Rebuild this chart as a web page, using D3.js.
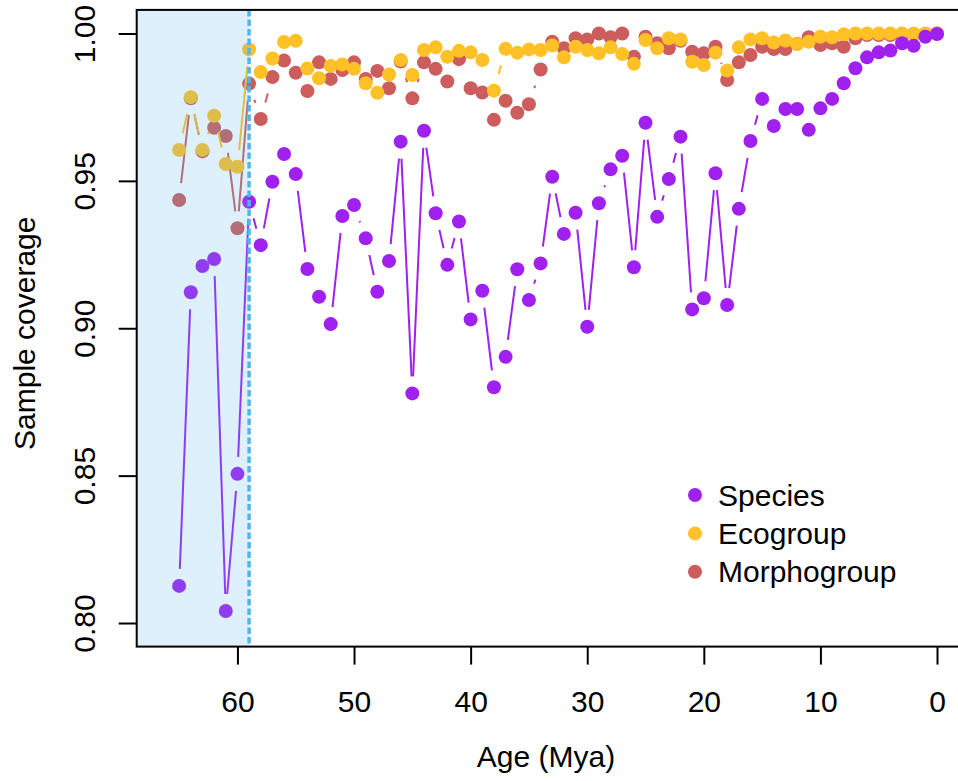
<!DOCTYPE html>
<html>
<head>
<meta charset="utf-8">
<script src="https://cdn.jsdelivr.net/npm/d3@7"></script>
<style>
  html, body { margin: 0; padding: 0; background: #ffffff; }
  svg { display: block; }
  text { font-family: "Liberation Sans", Arial, Helvetica, sans-serif; fill: #000; }
</style>
</head>
<body>
<svg id="chart" width="958" height="781"></svg>
<script>
// Time bins (Mya), one value per bin for each grouping level
const ages = [65,64,63,62,61,60,59,58,57,56,55,54,53,52,51,50,49,48,47,46,45,44,43,42,41,40,
              39,38,37,36,35,34,33,32,31,30,29,28,27,26,25,24,23,22,21,20,19,18,17,16,15,14,
              13,12,11,10,9,8,7,6,5,4,3,2,1,0];

const species = [0.8126,0.9122,0.9211,0.9235,0.8041,0.8506,0.9429,0.9282,0.9497,0.9591,0.9523,
                 0.9201,0.9107,0.9014,0.9381,0.9418,0.9305,0.9124,0.9228,0.9633,0.8779,0.9670,
                 0.9390,0.9215,0.9362,0.9030,0.9127,0.8800,0.8903,0.9200,0.9096,0.9220,0.9514,
                 0.9320,0.9392,0.9005,0.9424,0.9539,0.9585,0.9207,0.9697,0.9378,0.9506,0.9650,
                 0.9064,0.9102,0.9526,0.9079,0.9405,0.9635,0.9778,0.9686,0.9744,0.9744,0.9673,
                 0.9746,0.9778,0.9831,0.9882,0.9919,0.9936,0.9942,0.9967,0.9958,0.9989,0.9998];

const ecogroup = [0.9605,0.9784,0.9605,0.9721,0.9557,0.9548,0.9946,0.9869,0.9915,0.9971,0.9975,
                  0.9881,0.9848,0.9890,0.9895,0.9880,0.9831,0.9799,0.9861,0.9910,0.9859,0.9944,
                  0.9953,0.9921,0.9941,0.9936,0.9910,0.9806,0.9948,0.9935,0.9946,0.9944,0.9959,
                  0.9919,0.9955,0.9944,0.9933,0.9953,0.9930,0.9897,0.9978,0.9950,0.9984,0.9980,
                  0.9904,0.9893,0.9935,0.9874,0.9953,0.9980,0.9984,0.9969,0.9976,0.9964,0.9972,
                  0.9989,0.9987,0.9997,1.0000,1.0000,1.0000,1.0000,1.0000,0.9999,1.0000,1.0000];

const morphogroup = [0.9435,0.9780,0.9600,0.9680,0.9652,0.9339,0.9830,0.9710,0.9852,0.9908,0.9867,
                     0.9805,0.9902,0.9846,0.9876,0.9902,0.9846,0.9873,0.9814,0.9905,0.9780,0.9902,
                     0.9880,0.9837,0.9913,0.9814,0.9800,0.9707,0.9772,0.9731,0.9760,0.9878,0.9972,
                     0.9950,0.9984,0.9980,1.0000,0.9987,1.0000,0.9921,0.9989,0.9967,0.9950,0.9975,
                     0.9938,0.9933,0.9955,0.9842,0.9902,0.9927,0.9955,0.9947,0.9947,0.9965,0.9987,
                     0.9961,0.9967,0.9955,0.9984,0.9995,0.9995,0.9995,0.9995,0.9998,0.9999,1.0000];

const seriesNames = ["Species", "Ecogroup", "Morphogroup"];
const seriesColors = ["#A020F0", "#FFC125", "#CD5C5C"];

const xTicks = [60, 50, 40, 30, 20, 10, 0];
const yTicks = [0.80, 0.85, 0.90, 0.95, 1.00];
const yTickLabels = ["0.80", "0.85", "0.90", "0.95", "1.00"];

// Shaded interval (older than the boundary age)
const shadeFrom = 75;
const boundaryAge = 59;

// ---- layout ----
const svg = d3.select("#chart");
const FONT = 30;
const plot = { left: 136.7, right: 967.8, top: 9.9, bottom: 646.6 };

const x = d3.scaleLinear().domain([68.64, -2.64]).range([plot.left, plot.right]);
const y = d3.scaleLinear().domain([0.792, 1.008]).range([plot.bottom, plot.top]);

svg.append("defs").append("clipPath").attr("id", "plotClip")
  .append("rect")
  .attr("x", plot.left).attr("y", plot.top)
  .attr("width", plot.right - plot.left).attr("height", plot.bottom - plot.top);

const body = svg.append("g").attr("clip-path", "url(#plotClip)");

// points joined by line pieces that stop short of each point
const R = 7, GAP = 17;
function drawSeries(values, color) {
  const pts = ages.map((a, i) => [x(a), y(values[i])]);
  const segs = [];
  for (let i = 0; i < pts.length - 1; i++) {
    const [x0, y0] = pts[i], [x1, y1] = pts[i + 1];
    const d = Math.hypot(x1 - x0, y1 - y0);
    if (d <= 2 * GAP) continue;
    const ux = (x1 - x0) / d, uy = (y1 - y0) / d;
    segs.push([x0 + ux * GAP, y0 + uy * GAP, x1 - ux * GAP, y1 - uy * GAP]);
  }
  const g = body.append("g");
  g.selectAll("line").data(segs).join("line")
    .attr("x1", d => d[0]).attr("y1", d => d[1])
    .attr("x2", d => d[2]).attr("y2", d => d[3])
    .attr("stroke", color).attr("stroke-width", 2);
  g.selectAll("circle").data(pts).join("circle")
    .attr("cx", d => d[0]).attr("cy", d => d[1]).attr("r", R)
    .attr("fill", color);
}

drawSeries(morphogroup, seriesColors[2]);
drawSeries(ecogroup, seriesColors[1]);
drawSeries(species, seriesColors[0]);

// shaded interval and its boundary
body.append("rect")
  .attr("x", x(shadeFrom)).attr("y", plot.top)
  .attr("width", x(boundaryAge) - x(shadeFrom))
  .attr("height", plot.bottom - plot.top)
  .attr("fill", "#56B4E9").attr("fill-opacity", 0.2);

body.append("line")
  .attr("x1", x(boundaryAge)).attr("x2", x(boundaryAge))
  .attr("y1", plot.top).attr("y2", plot.bottom)
  .attr("stroke", "#4FB6EE").attr("stroke-width", 3.5)
  .attr("stroke-dasharray", "6.5,3");

// frame
svg.append("rect")
  .attr("x", plot.left).attr("y", plot.top)
  .attr("width", plot.right - plot.left).attr("height", plot.bottom - plot.top)
  .attr("fill", "none").attr("stroke", "#000").attr("stroke-width", 2);

// x axis
const xAxis = svg.append("g")
  .attr("transform", `translate(0,${plot.bottom})`)
  .call(d3.axisBottom(x).tickValues(xTicks).tickSize(18).tickFormat(d3.format("d")));
xAxis.select(".domain").remove();
xAxis.selectAll(".tick line").attr("stroke", "#000").attr("stroke-width", 2);
xAxis.selectAll(".tick text")
  .attr("y", 65).attr("dy", null)
  .style("font-size", FONT + "px")
  .style("font-family", "'Liberation Sans', Arial, Helvetica, sans-serif")
  .attr("fill", "#000");

// y axis
const yAxis = svg.append("g")
  .attr("transform", `translate(${plot.left},0)`)
  .call(d3.axisLeft(y).tickValues(yTicks).tickSize(18)
        .tickFormat((d, i) => yTickLabels[i]));
yAxis.select(".domain").remove();
yAxis.selectAll(".tick line").attr("stroke", "#000").attr("stroke-width", 2);
yAxis.selectAll(".tick text")
  .attr("x", null).attr("dy", null)
  .attr("text-anchor", "middle")
  .attr("transform", "translate(-42,0) rotate(-90)")
  .style("font-size", FONT + "px")
  .style("font-family", "'Liberation Sans', Arial, Helvetica, sans-serif")
  .attr("fill", "#000");

// axis titles
svg.append("text")
  .attr("x", 546).attr("y", 767)
  .attr("text-anchor", "middle")
  .style("font-size", FONT + "px")
  .text("Age (Mya)");

svg.append("text")
  .attr("transform", `translate(35,${(plot.top + plot.bottom) / 2 + 5}) rotate(-90)`)
  .attr("text-anchor", "middle")
  .style("font-size", FONT + "px")
  .text("Sample coverage");

// legend
const legend = svg.append("g").attr("transform", "translate(695,495)");
const legendRows = legend.selectAll("g").data(seriesNames).join("g")
  .attr("transform", (d, i) => `translate(0,${i * 38.4})`);
legendRows.append("circle").attr("r", R).attr("fill", (d, i) => seriesColors[i]);
legendRows.append("text")
  .attr("x", 23).attr("y", 10.5)
  .style("font-size", FONT + "px")
  .text(d => d);
</script>
</body>
</html>
